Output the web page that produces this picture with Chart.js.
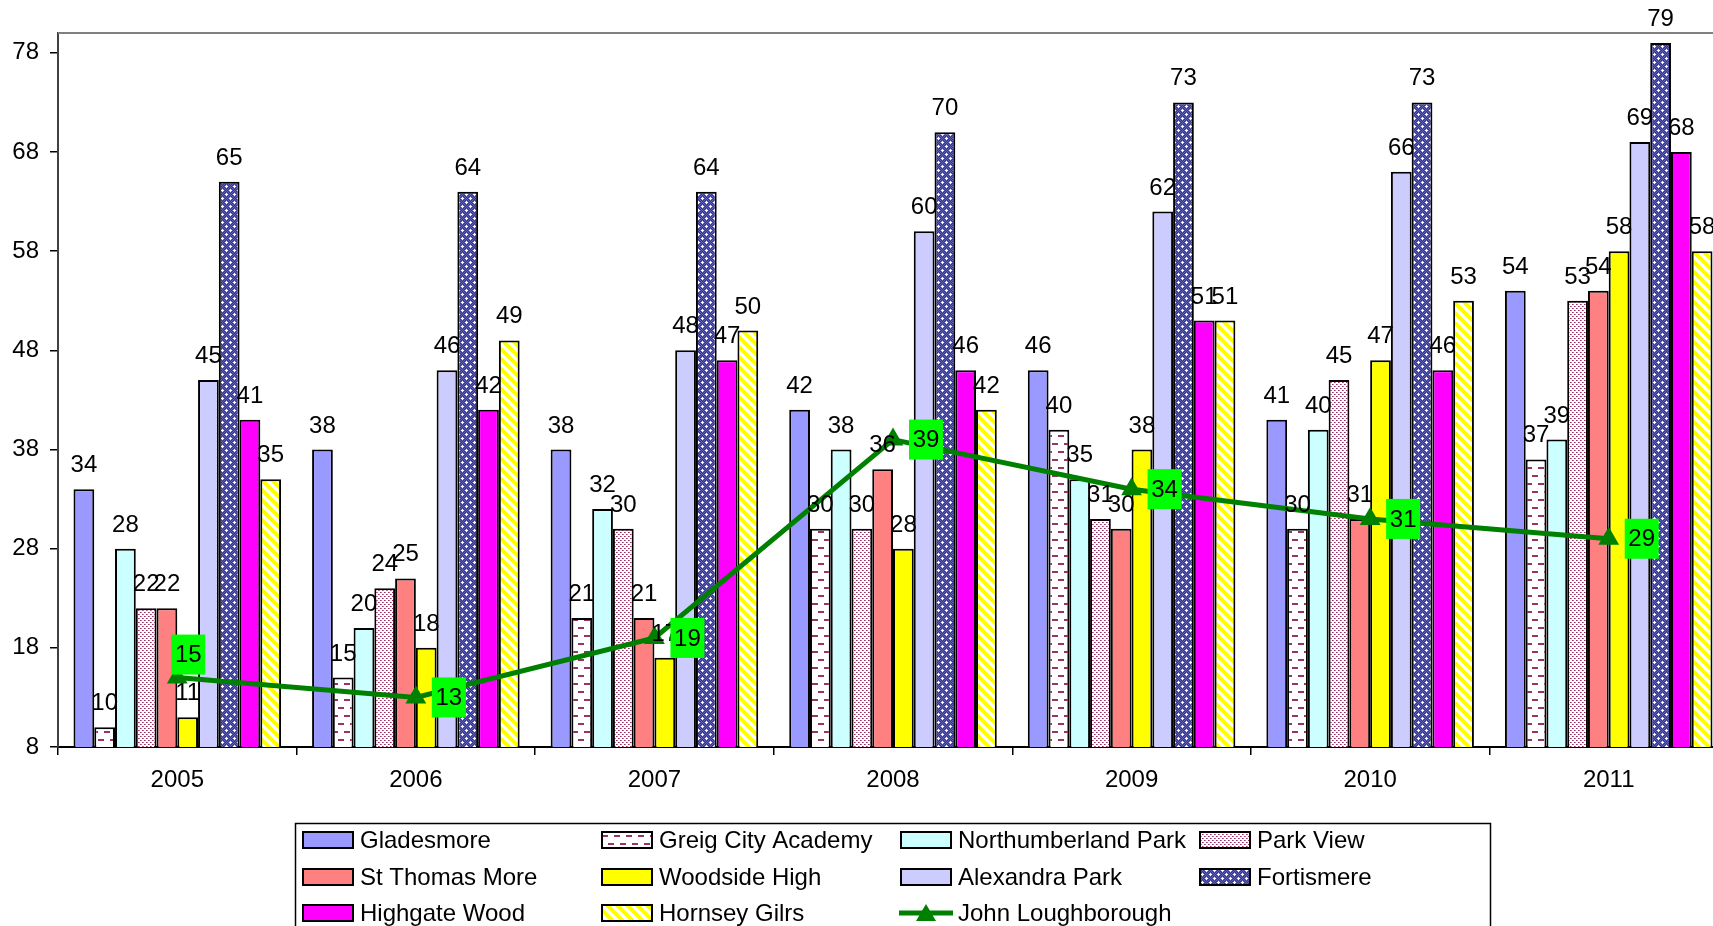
<!DOCTYPE html>
<html>
<head>
<meta charset="utf-8">
<script src="https://cdn.jsdelivr.net/npm/chart.js@4/dist/chart.umd.min.js"></script>
<style>
  html, body { margin: 0; padding: 0; background: #fff; overflow: hidden; }
  #chart { display: block; }
</style>
</head>
<body>
<canvas id="chart" width="1740" height="926"></canvas>
<script>
"use strict";

// values
var years = ['2005', '2006', '2007', '2008', '2009', '2010', '2011'];
var gladesmore = [34, 38, 38, 42, 46, 41, 54];
var greigCity = [10, 15, 21, 30, 40, 30, 37];
var northumberlandPark = [28, 20, 32, 38, 35, 40, 39];
var parkView = [22, 24, 30, 30, 31, 45, 53];
var stThomasMore = [22, 25, 21, 36, 30, 31, 54];
var woodsideHigh = [11, 18, 17, 28, 38, 47, 58];
var alexandraPark = [45, 46, 48, 60, 62, 66, 69];
var fortismere = [65, 64, 64, 70, 73, 73, 79];
var highgateWood = [41, 42, 47, 46, 51, 46, 68];
var hornseyGirls = [35, 49, 50, 42, 51, 53, 58];
var johnLoughborough = [15, 13, 19, 39, 34, 31, 29];
var yTicks = [8, 18, 28, 38, 48, 58, 68, 78];

(function () {
  var FONT = '"Liberation Sans", Arial, sans-serif';
  var makePattern, greigFill, parkViewFill, fortismereFill, hornseyFill;
  var valueLabels, plotFrame, gridLegend, bar, datasets;

  makePattern = function (w, h, draw) {
    var c = document.createElement('canvas');
    c.width = w;
    c.height = h;
    var ctx = c.getContext('2d');
    draw(ctx, w, h);
    return ctx.createPattern(c, 'repeat');
  };

  greigFill = makePattern(12, 16, function (ctx, w, h) {
    ctx.fillStyle = '#ffffff';
    ctx.fillRect(0, 0, w, h);
    ctx.fillStyle = '#993366';
    ctx.fillRect(2, 3, 6, 2);
    ctx.fillRect(8, 11, 6, 2);
    ctx.fillRect(-4, 11, 6, 2);
  });

  parkViewFill = makePattern(4, 4, function (ctx, w, h) {
    ctx.fillStyle = '#ffffff';
    ctx.fillRect(0, 0, w, h);
    ctx.fillStyle = '#993366';
    ctx.fillRect(0, 0, 1, 1);
    ctx.fillRect(2, 2, 1, 1);
    ctx.fillStyle = '#b07a9a';
    ctx.fillRect(1, 0, 1, 1);
    ctx.fillRect(3, 2, 1, 1);
  });

  fortismereFill = makePattern(8, 8, function (ctx, w, h) {
    var x, y;
    ctx.fillStyle = '#333399';
    ctx.fillRect(0, 0, w, h);
    ctx.fillStyle = '#6060b0';
    for (y = 0; y < h; y++) {
      for (x = 0; x < w; x++) {
        if ((x + y) % 2 === 0) ctx.fillRect(x, y, 1, 1);
      }
    }
    ctx.fillStyle = '#ffffff';
    ctx.fillRect(1, 2, 3, 1);
    ctx.fillRect(2, 1, 1, 3);
    ctx.fillRect(5, 6, 3, 1);
    ctx.fillRect(6, 5, 1, 3);
  });

  hornseyFill = makePattern(10, 10, function (ctx, w, h) {
    var x, y;
    ctx.fillStyle = '#ffffff';
    ctx.fillRect(0, 0, w, h);
    ctx.fillStyle = '#ffff00';
    for (y = 0; y < h; y++) {
      for (x = 0; x < w; x++) {
        if ((((x - y) % 10) + 10) % 10 < 5) ctx.fillRect(x, y, 1, 1);
      }
    }
  });

  bar = function (label, data, fill) {
    return {
      type: 'bar',
      label: label,
      data: data,
      backgroundColor: fill,
      borderColor: '#000000',
      borderWidth: 2,
      order: 1
    };
  };

  datasets = [
    bar('Gladesmore', gladesmore, '#9999ff'),
    bar('Greig City Academy', greigCity, greigFill),
    bar('Northumberland Park', northumberlandPark, '#ccffff'),
    bar('Park View', parkView, parkViewFill),
    bar('St Thomas More', stThomasMore, '#ff8080'),
    bar('Woodside High', woodsideHigh, '#ffff00'),
    bar('Alexandra Park', alexandraPark, '#ccccff'),
    bar('Fortismere', fortismere, fortismereFill),
    bar('Highgate Wood', highgateWood, '#ff00ff'),
    bar('Hornsey Gilrs', hornseyGirls, hornseyFill),
    {
      type: 'line',
      label: 'John Loughborough',
      data: johnLoughborough,
      borderColor: '#008000',
      backgroundColor: '#008000',
      borderWidth: 5,
      pointStyle: 'triangle',
      pointRadius: 12,
      pointBorderWidth: 0,
      tension: 0,
      order: 0
    }
  ];

  // numbers over bars and the green boxes on the line
  valueLabels = {
    id: 'valueLabels',
    afterDatasetsDraw: function (chart) {
      var ctx = chart.ctx;
      ctx.save();
      ctx.font = '24px ' + FONT;
      ctx.fillStyle = '#000000';
      ctx.textAlign = 'center';
      ctx.textBaseline = 'alphabetic';
      chart.data.datasets.forEach(function (ds, i) {
        if (ds.type === 'line') return;
        chart.getDatasetMeta(i).data.forEach(function (el, j) {
          ctx.fillText(String(ds.data[j]), el.x, el.y - 17);
        });
      });
      chart.data.datasets.forEach(function (ds, i) {
        if (ds.type !== 'line') return;
        chart.getDatasetMeta(i).data.forEach(function (pt, j) {
          var cx = pt.x + 33, cy = pt.y;
          if (j === 0) {
            // first label was dragged up in the original
            cx = pt.x + 11;
            cy = pt.y - 23;
          }
          ctx.fillStyle = '#00ff00';
          ctx.fillRect(cx - 17, cy - 20, 34, 40);
          ctx.fillStyle = '#000000';
          ctx.textBaseline = 'middle';
          ctx.fillText(String(ds.data[j]), cx, cy + 1);
        });
      });
      ctx.restore();
    }
  };

  plotFrame = {
    id: 'plotFrame',
    beforeDatasetsDraw: function (chart) {
      var a = chart.chartArea, ctx = chart.ctx;
      ctx.save();
      ctx.strokeStyle = '#808080';
      ctx.lineWidth = 2;
      ctx.beginPath();
      ctx.moveTo(a.left, a.top);
      ctx.lineTo(a.right, a.top);
      ctx.lineTo(a.right, a.bottom);
      ctx.stroke();
      ctx.restore();
    }
  };

  // boxed legend laid out in four columns, like the spreadsheet one
  gridLegend = {
    id: 'gridLegend',
    afterDraw: function (chart) {
      var ctx = chart.ctx;
      var colX = [303, 602, 901, 1200];
      var rowY = [840, 877, 913];
      ctx.save();
      ctx.strokeStyle = '#000000';
      ctx.lineWidth = 1.5;
      ctx.strokeRect(295.5, 823.5, 1195, 140);
      ctx.font = '24px ' + FONT;
      ctx.textBaseline = 'middle';
      ctx.textAlign = 'left';
      chart.data.datasets.forEach(function (ds, i) {
        var x = colX[i % 4], y = rowY[Math.floor(i / 4)];
        if (ds.type === 'line') {
          ctx.strokeStyle = ds.borderColor;
          ctx.lineWidth = 5;
          ctx.beginPath();
          ctx.moveTo(x - 2, y);
          ctx.lineTo(x + 52, y);
          ctx.stroke();
          ctx.fillStyle = ds.borderColor;
          ctx.beginPath();
          ctx.moveTo(x + 25, y - 9);
          ctx.lineTo(x + 35, y + 8);
          ctx.lineTo(x + 15, y + 8);
          ctx.closePath();
          ctx.fill();
        } else {
          ctx.fillStyle = ds.backgroundColor;
          ctx.fillRect(x, y - 8, 50, 16);
          ctx.strokeStyle = '#000000';
          ctx.lineWidth = 2;
          ctx.strokeRect(x, y - 8, 50, 16);
        }
        ctx.fillStyle = '#000000';
        ctx.fillText(ds.label, x + 57, y + 1);
      });
      ctx.restore();
    }
  };

  new Chart(document.getElementById('chart').getContext('2d'), {
    data: {
      labels: years,
      datasets: datasets
    },
    options: {
      responsive: false,
      animation: false,
      devicePixelRatio: 1,
      layout: {
        padding: { top: 33, right: 0, bottom: 0, left: 0 }
      },
      datasets: {
        bar: {
          categoryPercentage: 0.87,
          barPercentage: 1.0,
          borderSkipped: 'start'
        }
      },
      plugins: {
        legend: { display: false },
        tooltip: { enabled: false }
      },
      scales: {
        x: {
          type: 'category',
          offset: true,
          grid: {
            offset: true,
            drawOnChartArea: false,
            drawTicks: true,
            tickLength: 8,
            color: '#000000',
            lineWidth: 1.5
          },
          border: { display: true, color: '#000000', width: 2 },
          ticks: {
            color: '#000000',
            font: { family: FONT, size: 24 },
            padding: 11,
            maxRotation: 0
          },
          afterFit: function (scale) {
            scale.height = 179;
          }
        },
        y: {
          type: 'linear',
          min: 8,
          max: 80,
          grid: {
            drawOnChartArea: false,
            drawTicks: true,
            tickLength: 8,
            color: '#000000',
            lineWidth: 1.5
          },
          border: { display: true, color: '#404040', width: 2 },
          ticks: {
            color: '#000000',
            font: { family: FONT, size: 24 },
            padding: 11
          },
          afterBuildTicks: function (scale) {
            scale.ticks = yTicks.map(function (v) {
              return { value: v };
            });
          },
          afterFit: function (scale) {
            scale.width = 58;
          }
        }
      }
    },
    plugins: [plotFrame, valueLabels, gridLegend]
  });
}).call(void 0);
</script>
</body>
</html>
